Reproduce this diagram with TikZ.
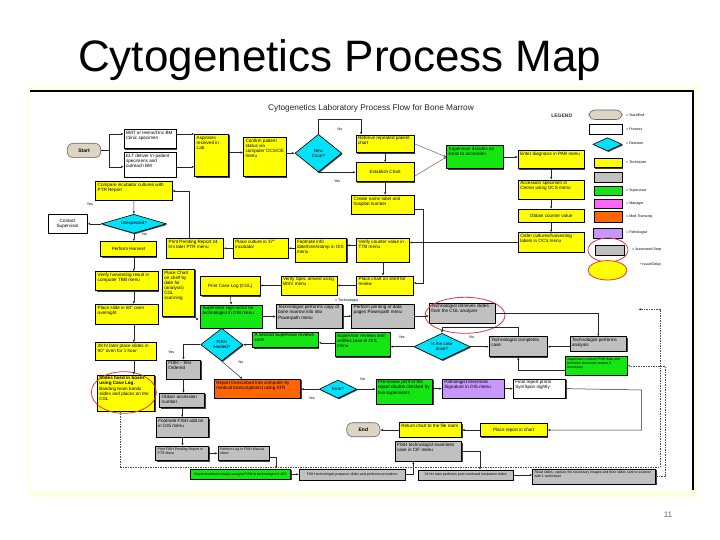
\documentclass[tikz,border=0pt]{standalone}
\usepackage{fontspec}
\setmainfont{Liberation Sans}
\usetikzlibrary{shapes.geometric,shadows,arrows.meta,calc}
\definecolor{cy}{RGB}{255,255,0}
\definecolor{cg}{RGB}{20,230,20}
\definecolor{cc}{RGB}{0,225,250}
\definecolor{cgray}{RGB}{192,192,192}
\definecolor{co}{RGB}{255,102,0}
\definecolor{cl}{RGB}{200,150,255}
\definecolor{cm}{RGB}{255,100,255}
\definecolor{cbeige}{RGB}{222,212,196}
\definecolor{cpale}{RGB}{255,255,228}
\definecolor{cred}{RGB}{215,60,60}
\newcommand\myboxgen[8]{%
 \pgfmathsetmacro\bxw{#5-#3}%
 \pgfmathsetmacro\bxh{#6-#4}%
 \pgfmathsetmacro\bxiw{#5-#3-4}%
 \pgfmathsetmacro\bxih{#6-#4-3}%
 \pgfmathsetmacro\bxcx{(#3+#5)/2}%
 \pgfmathsetmacro\bxcy{(#4+#6)/2}%
 \node[#1, minimum width=\bxw pt, minimum height=\bxh pt] (#2) at (\bxcx,\bxcy) {\parbox[c][\bxih pt][#8]{\bxiw pt}{#7}};}
\newcommand\mybox[7]{\myboxgen{#1}{#2}{#3}{#4}{#5}{#6}{\raggedright #7}{t}}
\newcommand\myboxc[7]{\myboxgen{#1}{#2}{#3}{#4}{#5}{#6}{\centering #7}{c}}
\newcommand\mydia[6]{%
 \pgfmathsetmacro\bxw{#4-#2}%
 \pgfmathsetmacro\bxh{#5-#3}%
 \pgfmathsetmacro\bxa{(#4-#2)/(#5-#3)}%
 \pgfmathsetmacro\bxcx{(#2+#4)/2}%
 \pgfmathsetmacro\bxcy{(#3+#5)/2}%
 \node[dia, minimum width=\bxw pt, minimum height=\bxh pt, aspect=\bxa] (#1) at (\bxcx,\bxcy) {#6};}
\newcommand\myterm[6]{%
 \pgfmathsetmacro\bxw{#4-#2}%
 \pgfmathsetmacro\bxh{#5-#3}%
 \pgfmathsetmacro\bxcx{(#2+#4)/2}%
 \pgfmathsetmacro\bxcy{(#3+#5)/2}%
 \node[term, minimum width=\bxw pt, minimum height=\bxh pt] (#1) at (\bxcx,\bxcy) {#6};}
\tikzset{
 shd/.style={drop shadow={shadow xshift=1pt, shadow yshift=-1pt, fill=black!75, opacity=1}},
 box/.style={rectangle, draw=black, line width=0.6pt, shd, font=\fontsize{4.6}{5.1}\selectfont, inner sep=0pt},
 ybox/.style={box, fill=cy},
 gbox/.style={box, fill=cg},
 grbox/.style={box, fill=cgray},
 wbox/.style={box, fill=white},
 obox/.style={box, fill=co},
 lbox/.style={box, fill=cl},
 mbox/.style={box, fill=cm},
 dia/.style={diamond, draw=black, line width=0.6pt, fill=cc, shd, inner sep=0pt, font=\fontsize{4.4}{5}\selectfont, align=center},
 term/.style={rectangle, rounded corners=6pt, draw=black!60, fill=cbeige, line width=0.6pt, font=\fontsize{5}{6}\selectfont\bfseries, inner sep=0pt},
 arr/.style={draw=black!85, line width=0.5pt, -{Latex[length=2.6pt,width=2.2pt]}},
 ln/.style={draw=black!85, line width=0.5pt},
 dsh/.style={draw=black!70, line width=0.5pt, dash pattern=on 1.5pt off 1pt},
 lbl/.style={font=\fontsize{3.6}{4}\selectfont, inner sep=0pt},
 redl/.style={draw=cred, line width=0.8pt},
 small/.style={font=\fontsize{3.5}{4}\selectfont}
}
\begin{document}
\begin{tikzpicture}[x=1pt,y=-1pt]
\useasboundingbox (0,0) rectangle (720,540);
\fill[white] (0,0) rectangle (720,540);
\fill[cpale] (28,86) rectangle (697,497);
\fill[white] (30,91) rectangle (693,490);
\draw[black, line width=1.4pt] (30,91) -- (693,91) -- (693,490);
\node[anchor=base west, font=\fontsize{44}{50}\selectfont, inner sep=0pt] (title) at (78,72) {Cytogenetics Process Map};
\node[font=\fontsize{8}{9}\selectfont, text=black!60] (pg) at (668,515) {11};
\node[font=\fontsize{8.3}{9}\selectfont, text=black!85] (ctitle) at (371,108.7) {Cytogenetics Laboratory Process Flow for Bone Marrow};
% legend
\node[font=\fontsize{5}{6}\selectfont\bfseries, text=black!80] (legend) at (561.7,116) {LEGEND};
\myterm{lg1}{589}{110}{622}{119.5}{}
\myboxc{wbox}{lg2}{589}{124}{622}{134}{}
\mydia{lg3}{593}{137.7}{622}{151}{}
\myboxc{ybox}{lg4}{594}{158.7}{622}{167.7}{}
\myboxc{grbox}{lg5}{594}{172}{622}{182}{}
\myboxc{gbox}{lg6}{594}{186}{622}{195.5}{}
\myboxc{mbox}{lg7}{594}{199}{622}{208}{}
\myboxc{obox}{lg8}{594}{211.5}{622}{222}{}
\myboxc{lbox}{lg9}{593}{228}{622}{238}{}
\myboxc{grbox}{lg10}{595}{245}{624}{255}{}
\draw[redl] (608,250) ellipse [x radius=20pt, y radius=12pt];
\draw[redl, fill=cy] (607.5,270.3) ellipse [x radius=19.5pt, y radius=9.7pt];
\node[lbl, anchor=west] (lt1) at (626,115) {= Start/End};
\node[lbl, anchor=west] (lt2) at (626,129.3) {= Process};
\node[lbl, anchor=west] (lt3) at (626,143.7) {= Decision};
\node[lbl, anchor=west] (lt4) at (626,162.5) {= Technician};
\node[lbl, anchor=west] (lt6) at (626,190.5) {= Supervisor};
\node[lbl, anchor=west] (lt7) at (626,204) {= Manager};
\node[lbl, anchor=west] (lt8) at (626,217) {= Med Transcrip.};
\node[lbl, anchor=west] (lt9) at (626,233) {= Pathologist};
\node[lbl, anchor=west] (lt10) at (632,250) {= Automated Step};
\node[lbl, anchor=west] (lt11) at (640,265) {• Issue/Delay};
% nodes
\myterm{start}{67.3}{143.3}{100.7}{157.7}{Start}
\mybox{wbox}{b2}{124}{129.3}{176.3}{148.7}{BMT or Heme/Onc BM Clinic specimen}
\mybox{wbox}{b3}{124}{152.7}{176.3}{177}{ELT deliver In-patient specimens and outreach BM}
\mybox{ybox}{b4}{194.7}{134.3}{228.7}{176.7}{Aspirates received in Lab}
\mybox{ybox}{b5}{243.6}{137.7}{286}{176.7}{Confirm patient status via computer OCS/OE menu}
\mydia{d6}{295}{134.3}{341.7}{172}{New\\Case?}
\mybox{ybox}{b7}{356}{135}{414.3}{152.7}{Retrieve repeated patient chart}
\myboxc{ybox}{b8}{356}{162.7}{414.3}{181.7}{Establish Chart}
\mybox{ybox}{b9}{351.7}{195.3}{414.3}{214.3}{Create name label and hospital number}
\mybox{gbox}{b10}{446.7}{145.3}{503.3}{168.7}{Supervisor decides on limits to accession}
\mybox{ybox}{b11}{518.3}{150.3}{584}{168.7}{Enter diagnosis in PAR menu}
\mybox{ybox}{b12}{518.3}{180}{584}{199.3}{Accession specimen in Cerner using OCS menu}
\myboxc{ybox}{b13}{518.3}{209.3}{584}{222}{Obtain counter value}
\mybox{ybox}{b14}{518.3}{232.7}{584}{252.3}{Order cultures/harvesting labels in OCS menu}
\mybox{ybox}{b15}{356.7}{238.3}{409.3}{262.3}{Verify counter value in TTB menu}
\mybox{ybox}{b16}{295}{238.3}{346.7}{262.3}{Footnote info date/time/stamp in OIS menu}
\mybox{ybox}{b17}{233.3}{238.3}{288.3}{258.3}{Place culture in 37° incubator}
\mybox{ybox}{b17b}{166.7}{238.3}{223.3}{258.3}{Print Pending Report 24 hrs later PTR menu}
\mybox{ybox}{b18}{95.7}{181.7}{172}{200.3}{Compare incubator cultures with PTR Report}
\mydia{d19}{101.3}{214.3}{166.3}{233.3}{Unexpected?}
\myboxc{wbox}{b20}{48}{214.3}{87.3}{233.3}{Contact Supervisor}
\myboxc{ybox}{b21}{100.7}{241.7}{156.3}{256.7}{Perform Harvest}
\mybox{ybox}{b22}{95.7}{271.7}{158}{290.7}{Verify harvesting result in computer TBB menu}
\mybox{ybox}{b23}{95.7}{304.3}{158}{324}{Place slide in 60° oven overnight}
\mybox{ybox}{b24}{162.3}{269.3}{194.7}{316.7}{Place Chart on shelf by date for (analysis) CGL scanning}
\mybox{ybox}{b25}{281}{276}{337}{295}{Verify Spec arrived using WSV menu}
\mybox{ybox}{b26}{356.7}{276}{413.3}{295}{Place chart on shelf for review}
\myboxc{ybox}{b27}{200.5}{276.5}{260}{295.5}{Print Case Log (CGL)}
\mybox{gbox}{b28}{200.5}{305}{262}{328}{Supervisor sign-in/out for technologist in OIS menu}
\mybox{grbox}{b29}{276}{304}{342.7}{328}{Technologist performs copy of bone marrow info into Powerpath menu}
\mybox{grbox}{b30}{351.7}{304}{414}{328}{Perform printing of data pages Powerpath menu}
\mybox{grbox}{b31}{429.3}{303}{495}{323.3}{Technologist retrieves slides from the CGL analyzer}
\mybox{grbox}{b32}{570}{336.7}{626.7}{351}{Technologist performs analysis}
\mybox{grbox}{b33}{489.3}{336.7}{547.3}{356.7}{Technologist completes case}
\mydia{d34}{414}{333.3}{470}{360}{Is the case\\done?}
\mybox{gbox}{b35}{335}{332.7}{390}{356.7}{Supervisor reviews and verifies case in OIS menu}
\mybox{gbox}{b36}{252.7}{332}{318.3}{347.5}{A second Supervisor reviews case}
\mydia{d37}{200.7}{328.3}{242.7}{361}{FISH\\needed?}
\mybox{grbox}{b38}{166.3}{360}{200.7}{379}{FISH - Test Ordered}
\mybox{grbox}{b39}{159.7}{393.3}{204.7}{407.7}{Obtain accession number}
\mybox{grbox}{b40}{156.3}{417.7}{208.7}{437.3}{Footnote FISH add on in OIS menu}
\mybox{grbox,small}{b41}{155.7}{446}{208.7}{460.7}{Print FISH Pending Report in PTR Menu}
\mybox{grbox,small}{b42}{218}{446.7}{269.3}{460.7}{Perform Log in FISH Manual sheet}
\myboxc{gbox,small}{b43}{190.3}{469.3}{290.7}{479.3}{Supervisor/technologist assigns FISH to technologist in OIS}
\myboxc{grbox,small}{b44}{299.3}{469.3}{405}{480}{FISH technologist prepares slides and performs procedure}
\mybox{grbox}{b45}{395}{441.7}{461.7}{461}{FISH technologist examines case in CIF menu}
\myboxc{grbox,small}{b46}{418.3}{470}{513.3}{480}{24 hrs later performs post overhead incubation slides}
\mybox{grbox,small}{b47}{532.7}{469.3}{655.7}{484}{Read slides, capture the necessary images and then slides sent to scanner with 1 worksheet}
\mybox{gbox,small}{b48}{565}{356.7}{627.3}{375}{Supervisor reviews FISH data and performs electronic review, if necessary}
\mybox{ybox}{b49}{97.3}{375}{154.7}{411}{\textbf{Slides fixed in boxes using Case Log.} Banding team bands slides and places on the CGL}
\mybox{ybox}{b50}{95.7}{342.7}{156.3}{360}{38 hr later place slides in 90° oven for 1 hour}
\mybox{obox}{b51}{214.3}{379.3}{300.7}{398.3}{Report transcribed into computer by medical transcriptionist using ATR}
\mydia{d52}{319.3}{380}{356.7}{398.3}{Error?}
\mybox{gbox}{b53}{376}{379}{432.7}{404.3}{Pre-review print of the report double checked by two supervisors}
\mybox{lbox}{b54}{442.3}{379}{504.3}{398.3}{Pathologist Electronic Signature in OIS menu}
\mybox{wbox}{b55}{513.3}{379}{565.7}{398.3}{Final report prints Syn/Spon nightly}
\myboxc{ybox}{b56}{480}{423.3}{547.3}{436.7}{Place report in chart}
\mybox{ybox}{b57}{399.3}{422.7}{461.7}{437.3}{Return chart to the file room}
\myterm{endn}{346.7}{422.7}{380}{436.7}{End}
% red ellipses
\draw[redl] (465,315.3) ellipse [x radius=40pt, y radius=18pt];
\draw[redl] (123.8,392.5) ellipse [x radius=32.5pt, y radius=20.8pt];
% labels
\node[lbl] (l6no) at (340,129.3) {No};
\node[lbl] (l6yes) at (337.3,181) {Yes};
\node[lbl] (l19yes) at (89.7,204.3) {Yes};
\node[lbl] (l19no) at (144.7,234) {No};
\node[lbl] (l34yes) at (401.7,337.3) {Yes};
\node[lbl] (l34no) at (471.7,337.3) {No};
\node[lbl] (l37yes) at (171.3,352.7) {Yes};
\node[lbl] (l37no) at (241,362.3) {No};
\node[lbl] (l52yes) at (311.7,398.3) {Yes};
\node[lbl] (l52no) at (362.7,379) {No};
\node[lbl] (ltech) at (346.7,300.7) {= Technologist};
% coordinates
\coordinate (fk) at (109.7,150.5);
\coordinate (c24) at (198.5,320.5);
\coordinate (k55) at (641.7,390);
\coordinate (dcorner) at (660,467);
\coordinate (dend) at (638.3,309.3);
% connectors
\draw[ln] (start.east) -- (fk);
\draw[arr] (fk) |- ([yshift=5pt]b2.west);
\draw[arr] (fk) |- ([yshift=-2pt]b3.west);
\draw[arr] ([yshift=5pt]b2.east) -- ([yshift=5pt]b2.east -| b4.west);
\draw[arr] ([yshift=-2pt]b3.east) -- ([yshift=-2pt]b3.east -| b4.west);
\draw[arr] ([yshift=3pt]b4.east) -- ([yshift=3pt]b4.east -| b5.west);
\draw[arr] (d6.west -| b5.east) -- (d6.west);
\draw[arr] (d6.north) -- ++(0,-14.3) -| ([xshift=-24pt]b7.north);
\draw[arr] (d6.south) -- (d6.south -| b8.west);
\draw[arr] (b7.south) -- (b7.south |- b8.north);
\draw[arr] (b8.south) -- (b8.south |- b9.north);
\draw[arr, draw=black!60] (b7.east) -- (b10.west);
\draw[arr, draw=black!60] ([yshift=-4pt]b8.east) -- (b10.west);
\draw[arr] (b10.east) -- (b10.east -| b11.west);
\draw[arr] (b11.south) -- (b12.north);
\draw[arr] (b12.south) -- (b13.north);
\draw[arr] (b13.south) -- (b14.north);
\draw[arr] (b14.west) -- (b14.west -| b15.east);
\draw[arr] ([yshift=-4.5pt]b9.east) -- ++(9,0) |- ([yshift=2.5pt]b26.east);
\draw[arr] ([yshift=5pt]b15.west) -- ([yshift=5pt]b15.west -| b16.east);
\draw[arr] (b16.west |- b17.east) -- (b17.east);
\draw[arr] (b17.west) -- (b17b.east);
\draw[arr] ([xshift=-5.7pt]b17b.north) |- (b18.east);
\draw[arr] (b18.south) -- (d19.north);
\draw[arr] (d19.west) -- (d19.west -| b20.east);
\draw[arr] (d19.south) -- (d19.south |- b21.north);
\draw[arr] (b21.south -| d19.south) -- (b22.north -| d19.south);
\draw[arr] (b22.south -| d19.south) -- (b23.north -| d19.south);
\draw[arr] (b23.south -| d19.south) -- (b50.north -| d19.south);
\draw[arr] (b50.south -| d19.south) -- (b49.north -| d19.south);
\draw[arr] (b15.south) -- (b15.south |- b26.north);
\draw[arr] (b26.west) -- (b26.west -| b25.east);
\draw[arr] (b25.west) -- (b25.west -| b27.east);
\draw[arr] (b27.south) -- (b28.north);
\draw[arr] (b24.south east) -- (c24);
\draw[arr] (b28.east) -- (b28.east -| b29.west);
\draw[arr] (b29.east) -- (b29.east -| b30.west);
\draw[arr] (b30.east) -- (b30.east -| b31.west);
\draw[arr] (b31.east) -| (b32.north);
\draw[arr] (b33.east -| b32.west) -- (b33.east);
\draw[arr] (d34.east) -- (d34.east -| b33.west);
\draw[arr] (b33.north) -- ++(0,-9.4) -| (d34.north);
\draw[arr] (d34.west) -- (d34.west -| b35.east);
\draw[arr] ([yshift=-3pt]b36.east -| b35.west) -- ([yshift=-3pt]b36.east);
\draw[arr] (d37.east -| b36.west) -- (d37.east);
\draw[arr] (d37.west) -| (b38.north);
\draw[arr] (d37.south) -- ([xshift=-15pt]b51.north);
\draw[arr] (b38.south) -- (b38.south |- b39.north);
\draw[arr] (b39.south) -- (b39.south |- b40.north);
\draw[arr] (b40.south) -- (b40.south |- b41.north);
\draw[arr] (b41.east) -- (b41.east -| b42.west);
\draw[arr] ([yshift=-4pt]b42.east) -| ([xshift=35.5pt]b43.north);
\draw[arr] (b43.east) -- (b43.east -| b44.west);
\draw[arr] (b44.east) -| ([xshift=-15pt]b45.south);
\draw[arr] (b45.east) -| ([xshift=14.2pt]b46.north);
\draw[arr] (b46.east) -- (b46.east -| b47.west);
\draw[arr, dsh] (b47.east) -- ++(9,0) |- (b48.east);
\draw[arr, dsh] ([xshift=-5.3pt]b49.south) |- (dcorner) |- (dend);
\draw[arr] ([yshift=-4pt]b48.west) -| (b33.south);
\draw[arr] (d52.west) -- (d52.west -| b51.east);
\draw[arr] (d52.east) -- (d52.east -| b53.west);
\draw[arr] (b54.west -| b53.east) -- (b54.west);
\draw[arr] (b54.east) -- (b54.east -| b55.west);
\draw[arr] (b55.east) -- (k55) |- (b56.east);
\draw[arr] (b56.west) -- (b56.west -| b57.east);
\draw[arr] (b57.west) -- (b57.west -| endn.east);
\end{tikzpicture}
\end{document}
